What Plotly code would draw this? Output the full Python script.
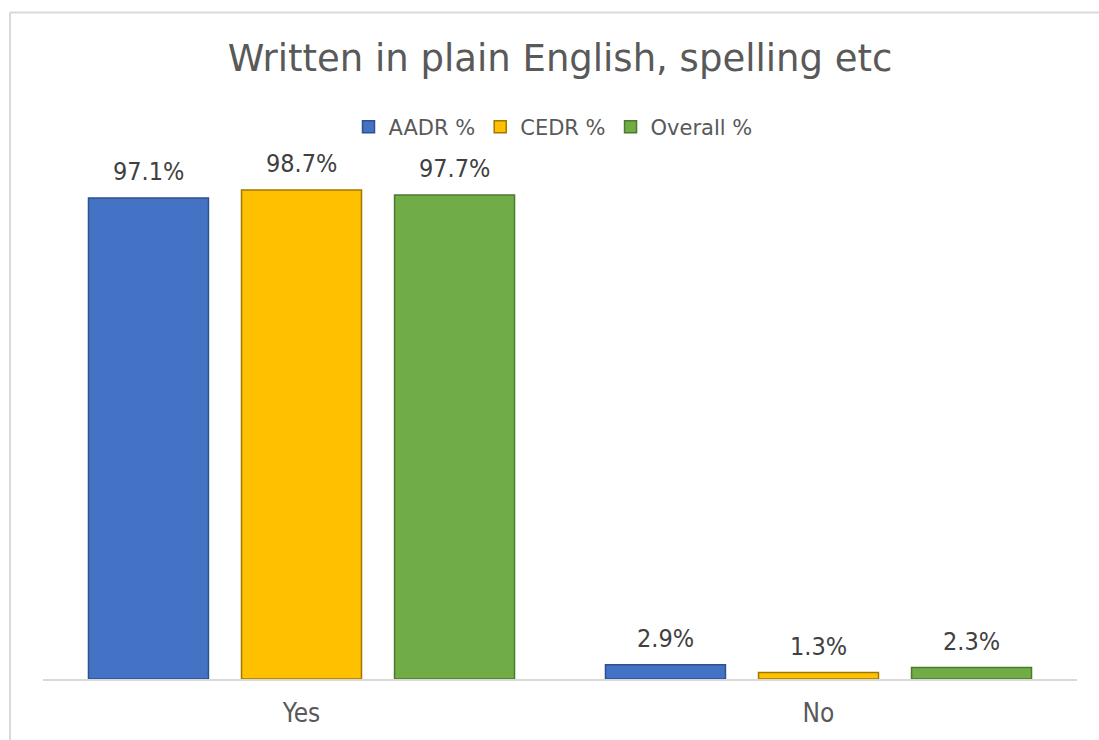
import plotly.graph_objects as go

# Survey answers and the share of responses per group
categories = ["Yes", "No"]
series_names = ["AADR %", "CEDR %", "Overall %"]
aadr = [97.1, 2.9]
cedr = [98.7, 1.3]
overall = [97.7, 2.3]

colors = ["#4472C4", "#FFC000", "#70AD47"]
edge_colors = ["#2F528F", "#A07800", "#4B7A2F"]

W, H = 1099, 740
ML, MR, MT, MB = 43, 22, 134, 59
Y_MAX = 110
TITLE_FONT = "DejaVu Sans"
LABEL_FONT = "Liberation Sans Narrow, DejaVu Sans Condensed, Arial Narrow, sans-serif"

fig = go.Figure()
for name, vals, col, edge in zip(series_names, [aadr, cedr, overall], colors, edge_colors):
    fig.add_trace(go.Bar(
        name=name,
        x=categories,
        y=vals,
        marker=dict(color=col, line=dict(color=edge, width=1.5)),
        hoverinfo="skip",
    ))

# value labels above each bar, offset by the bar's slot within its group
bargap = 0.112
slot = (1 - bargap) / 3
for k, vals in enumerate([aadr, cedr, overall]):
    for i, v in enumerate(vals):
        fig.add_annotation(
            x=i + (k - 1) * slot,
            y=v,
            xref="x",
            yref="y",
            text=f"{v:.1f}%",
            showarrow=False,
            yanchor="bottom",
            yshift=10,
            font=dict(family=LABEL_FONT, size=25, color="#404040"),
        )

plot_w = W - ML - MR
plot_h = H - MT - MB

# light outline along the top and left of the chart area
top_y = (H - MB - 12) / plot_h
left_x = (10 - ML) / plot_w
fig.add_shape(type="line", xref="paper", yref="paper",
              x0=left_x, x1=(W + 50 - ML) / plot_w, y0=top_y, y1=top_y,
              line=dict(color="#D9D9D9", width=2), layer="below")
fig.add_shape(type="line", xref="paper", yref="paper",
              x0=left_x, x1=left_x, y0=(H - MB - (H + 50)) / plot_h, y1=top_y,
              line=dict(color="#D9D9D9", width=2), layer="below")

fig.update_layout(
    width=W,
    height=H,
    margin=dict(l=ML, r=MR, t=MT, b=MB),
    paper_bgcolor="white",
    plot_bgcolor="white",
    barmode="group",
    bargap=bargap,
    bargroupgap=0.216,
    title=dict(
        text="Written in plain English, spelling etc",
        x=560 / W,
        xanchor="center",
        y=1 - 58 / H,
        yanchor="middle",
        font=dict(family=TITLE_FONT, size=37, color="#595959"),
    ),
    legend=dict(
        orientation="h",
        x=(553 - ML) / plot_w,
        xanchor="center",
        y=(H - MB - 127) / plot_h,
        yanchor="middle",
        font=dict(family=TITLE_FONT, size=21, color="#595959"),
        itemwidth=30,
        bgcolor="rgba(0,0,0,0)",
    ),
    xaxis=dict(
        showline=True,
        linecolor="#D9D9D9",
        linewidth=2,
        ticks="",
        ticklabelstandoff=10,
        tickfont=dict(family=LABEL_FONT, size=26, color="#595959"),
        showgrid=False,
        zeroline=False,
        fixedrange=True,
    ),
    yaxis=dict(
        range=[0, Y_MAX],
        visible=False,
        showgrid=False,
        zeroline=False,
        fixedrange=True,
    ),
    showlegend=True,
)

fig.write_html("out.html")
